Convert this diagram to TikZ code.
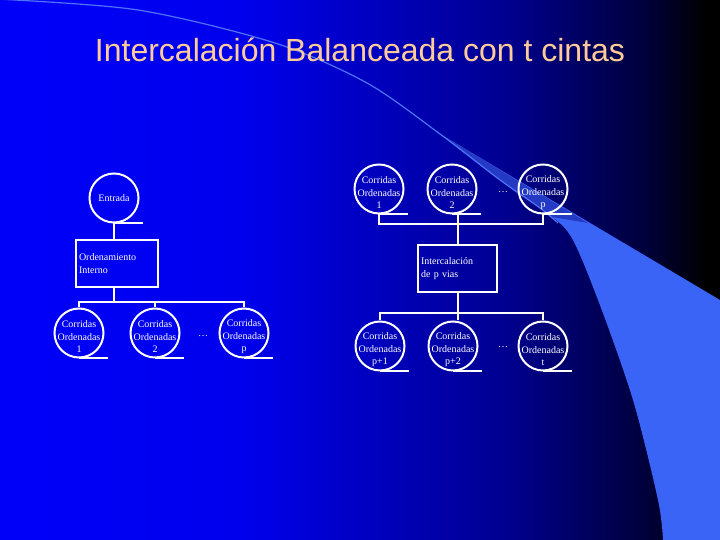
\documentclass[tikz,border=0pt]{standalone}
\usepackage{fontspec}
\newfontfamily\serifface{Liberation Serif}
\newfontfamily\sansface{Liberation Sans}

\definecolor{slideblue}{RGB}{0,0,250}
\definecolor{slideblueb}{RGB}{0,0,236}
\definecolor{slidemid}{RGB}{0,0,145}
\definecolor{slidedark}{RGB}{0,0,58}
\definecolor{swooshlight}{RGB}{58,100,245}
\definecolor{swooshdim}{RGB}{36,58,196}
\definecolor{swooshline}{RGB}{78,116,250}
\definecolor{titlepeach}{RGB}{255,204,153}

\pgfdeclarehorizontalshading{slideshade}{100bp}{color(0bp)=(slideblue); color(25bp)=(slideblue); color(42bp)=(slideblueb); color(60bp)=(slidemid); color(70bp)=(slidedark); color(74bp)=(black); color(100bp)=(black)}

\newcommand{\diagfont}{\serifface\fontsize{10bp}{12.5bp}\selectfont}
\newcommand{\titlefont}{\sansface\fontsize{32bp}{38bp}\selectfont}

\begin{document}
\begin{tikzpicture}[x=1bp, y=1bp,
    wire/.style={draw=white, line width=2bp},
    tape/.style={circle, draw=white, line width=2bp, minimum size=49bp, inner sep=0pt},
    tapetext/.style={text=white, align=center, font=\diagfont, inner sep=0pt, yshift=-4bp},
    procbox/.style={rectangle, draw=white, line width=2bp, text=white, align=left,
        font=\diagfont, inner sep=3bp, minimum height=47bp},
    gap/.style={text=white, font=\diagfont}]
    \useasboundingbox (0,0) rectangle (720,540);
    % background
    \shade[shading=slideshade] (0,0) rectangle (720,540);
    \fill[swooshlight] (720,240) -- plot[smooth] coordinates {(440,406) (500,360) (540,332) (570,305) (598,240) (633,140) (658,40) (663,0)} -- (720,0) -- cycle;
    \fill[swooshdim] (588,317) -- plot[smooth] coordinates {(552,323) (540,332) (500,360) (440,406)} -- cycle;
    \draw[swooshline, line width=1.2bp] plot[smooth] coordinates {(-5,541) (138,530) (275,497) (367,457) (440,406) (500,360) (540,332) (558,317)};

    \node[text=titlepeach, font=\titlefont] (title) at (360,490) {Intercalación Balanceada con t cintas};

    % left: entrada -> ordenamiento -> p cintas
    \node[tape, text=white, font=\diagfont] (ent) at (114,342) {Entrada};
    \node[procbox, text width=76bp] (ord) at (117,276.5) {Ordenamiento\\Interno};
    \node[tape, label={[tapetext]center:{Corridas\\Ordenadas\\1}}] (l1) at (79,207) {};
    \node[tape, label={[tapetext]center:{Corridas\\Ordenadas\\2}}] (l2) at (155,207) {};
    \node[tape, label={[tapetext]center:{Corridas\\Ordenadas\\p}}] (l3) at (244,207) {};
    \node[gap] (dotsl) at (203,204) {\dots};

    % right: p cintas -> intercalacion -> t-p cintas
    \node[tape, label={[tapetext]center:{Corridas\\Ordenadas\\1}}] (r1) at (379,351) {};
    \node[tape, label={[tapetext]center:{Corridas\\Ordenadas\\2}}] (r2) at (452,351) {};
    \node[tape, label={[tapetext]center:{Corridas\\Ordenadas\\p}}] (r3) at (543,351) {};
    \node[gap] (dotsr) at (503,348) {\dots};
    \node[procbox, text width=73bp] (merge) at (457.5,271.5) {Intercalación\\de p vias};
    \node[tape, label={[tapetext]center:{Corridas\\Ordenadas\\p+1}}] (s1) at (380,194) {};
    \node[tape, label={[tapetext]center:{Corridas\\Ordenadas\\p+2}}] (s2) at (453,194) {};
    \node[tape, label={[tapetext]center:{Corridas\\Ordenadas\\t}}] (s3) at (543,194) {};
    \node[gap] (dotss) at (503,193) {\dots};

    % tape tails
    \foreach \t in {ent,l1,l2,l3,r1,r2,r3,s1,s2,s3}
        \draw[wire] (\t.south) -- ++(29,0);

    % connectors
    \draw[wire] (ent.south) -- (ent.south |- ord.north);
    \foreach \t in {l1,l2,l3}
        \draw[wire] (ent.south |- ord.south) -- ++(0,-14) -| (\t.north);
    \foreach \t in {r1,r3}
        \draw[wire] (\t.south) -- ++(0,-10) -| (merge.north);
    \draw[wire] (merge.north) -- (merge.north |- r2.south);
    \foreach \t in {s1,s3}
        \draw[wire] (merge.south) -- ++(0,-20) -| (\t.north);
    \draw[wire] (merge.south) -- (merge.south |- s2.north);
\end{tikzpicture}
\end{document}
